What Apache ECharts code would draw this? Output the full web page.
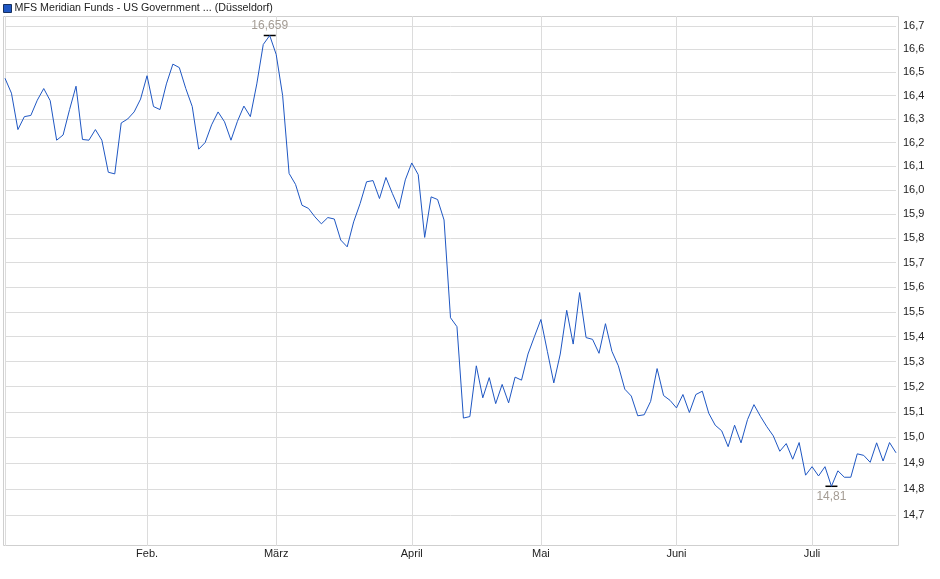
<!DOCTYPE html>
<html>
<head>
<meta charset="utf-8">
<script src="https://cdn.jsdelivr.net/npm/echarts@6/dist/echarts.min.js"></script>
<style>
html,body{margin:0;padding:0;background:#fff;}
#chart{width:940px;height:579px;}
</style>
</head>
<body>
<div id="chart"></div>
<script>
const seriesName = 'MFS Meridian Funds - US Government ... (Düsseldorf)';
const prices = [
16.474,16.41,16.255,16.31,16.315,16.38,16.43,16.378,16.21,16.232,
16.34,16.44,16.213,16.21,16.255,16.21,16.075,16.068,16.283,16.30,
16.33,16.385,16.485,16.353,16.34,16.45,16.535,16.52,16.43,16.353,
16.172,16.2,16.275,16.33,16.288,16.21,16.29,16.355,16.31,16.45,
16.62,16.659,16.577,16.40,16.07,16.024,15.937,15.924,15.889,15.86,
15.886,15.88,15.793,15.765,15.868,15.944,16.035,16.04,15.965,16.053,
15.986,15.924,16.043,16.114,16.065,15.804,15.972,15.961,15.876,15.476,
15.44,15.076,15.082,15.283,15.156,15.236,15.133,15.209,15.136,15.238,
15.226,15.33,15.40,15.469,15.341,15.215,15.33,15.506,15.37,15.578,
15.396,15.389,15.333,15.452,15.341,15.283,15.19,15.163,15.085,15.089,
15.142,15.272,15.165,15.146,15.116,15.169,15.098,15.169,15.182,15.095,
15.048,15.026,14.964,15.048,14.979,15.07,15.129,15.083,15.042,15.006,
14.946,14.976,14.915,14.98,14.853,14.886,14.85,14.886,14.81,14.87,
14.845,14.845,14.936,14.93,14.903,14.979,14.908,14.98,14.94
];
const categories = prices.map((_, i) => String(i));
const monthTickIndex = [22, 42, 63, 83, 104, 125];
const monthLabels = ['Feb.', 'März', 'April', 'Mai', 'Juni', 'Juli'];
const splitIndex = [0].concat(monthTickIndex);
const yTicks = [14.7,14.8,14.9,15.0,15.1,15.2,15.3,15.4,15.5,15.6,15.7,15.8,15.9,16.0,16.1,16.2,16.3,16.4,16.5,16.6,16.7];

const fmt = (v, d) => v.toFixed(d).replace('.', ',');
const FONT = '"Liberation Sans", Arial, sans-serif';

const chart = echarts.init(document.getElementById('chart'), null, {renderer: 'canvas'});
chart.setOption({
  animation: false,
  backgroundColor: '#fff',
  textStyle: {fontFamily: FONT},
  legend: {
    left: 1, top: 1, padding: [2, 2],
    itemWidth: 8, itemHeight: 8, itemGap: 4,
    icon: 'rect',
    selectedMode: false,
    textStyle: {fontFamily: FONT, fontSize: 10.7, color: '#222', padding: [1, 0, 0, -2]},
    data: [{name: seriesName, itemStyle: {color: '#1f57c3', borderColor: '#17305f', borderWidth: 1}}]
  },
  graphic: [{
    type: 'rect', silent: true, z: 0,
    shape: {x: 3.5, y: 16.5, width: 895, height: 529},
    style: {fill: null, stroke: '#cfcfcf', lineWidth: 1}
  }],
  grid: {left: 5, right: 44, top: 16, bottom: 33, show: false},
  xAxis: {
    type: 'category',
    data: categories,
    boundaryGap: false,
    axisLine: {show: false},
    axisTick: {show: false},
    axisLabel: {
      interval: (i) => monthTickIndex.indexOf(i) >= 0,
      formatter: (v, i) => { const k = monthTickIndex.indexOf(i); return k >= 0 ? monthLabels[k] : ''; },
      color: '#222', fontSize: 11, fontFamily: FONT, margin: 2
    },
    splitLine: {show: true, interval: (i) => splitIndex.indexOf(i) >= 0, lineStyle: {color: '#dcdcdc', width: 1}}
  },
  yAxis: {
    type: 'log',
    logBase: 10,
    min: 14.581,
    max: 16.744,
    axisLine: {show: false},
    axisTick: {show: false},
    axisLabel: {show: false},
    splitLine: {show: false}
  },
  series: [{
    name: seriesName,
    type: 'line',
    data: prices,
    showSymbol: false,
    symbol: 'none',
    lineStyle: {color: '#1f57c3', width: 1},
    itemStyle: {color: '#1f57c3'},
    z: 5,
    markLine: {
      silent: true,
      symbol: 'none',
      z: 1,
      lineStyle: {color: '#dcdcdc', width: 1, type: 'solid'},
      label: {
        position: 'end', distance: 7,
        formatter: (p) => fmt(p.value, 1),
        color: '#222', fontSize: 11, fontFamily: FONT
      },
      data: yTicks.map(v => ({yAxis: v}))
    },
    markPoint: {
      silent: true,
      symbol: 'rect',
      symbolSize: [12, 1.5],
      itemStyle: {color: '#000'},
      label: {
        fontSize: 12, fontFamily: FONT, color: '#a49c94'
      },
      data: [
        {type: 'max', label: {position: 'top', distance: 3, formatter: (p) => fmt(p.value, 3)}},
        {type: 'min', label: {position: 'bottom', distance: 4, formatter: (p) => fmt(p.value, 2)}}
      ]
    }
  }]
});
</script>
</body>
</html>
